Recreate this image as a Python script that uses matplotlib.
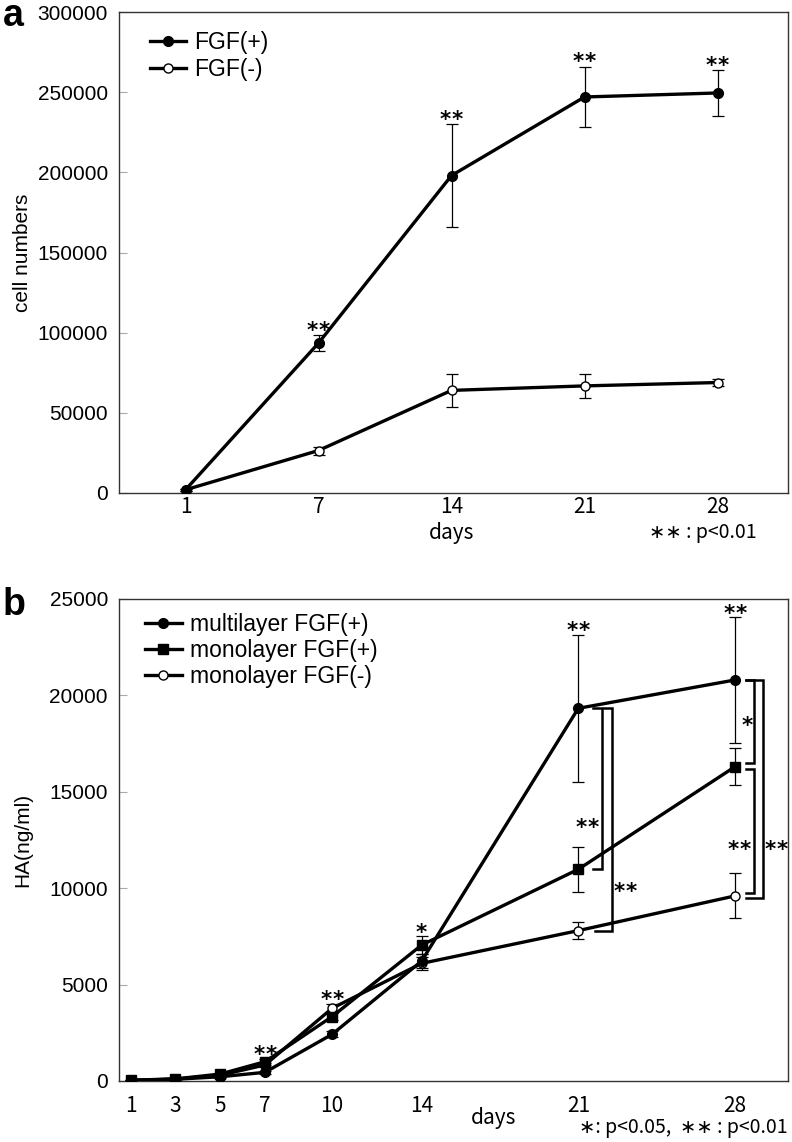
import numpy as np
import matplotlib.pyplot as plt

plt.rcParams['font.family'] = ['Liberation Sans', 'DejaVu Sans']
JP = ['Noto Sans CJK JP', 'DejaVu Sans']

# panel a: cell numbers
days_a = [1, 7, 14, 21, 28]
fgf_pos = [2000, 93500, 198000, 247000, 249500]
fgf_pos_err = [800, 5000, 32000, 19000, 14300]
fgf_neg = [2000, 26500, 64000, 66800, 68900]
fgf_neg_err = [800, 2500, 10500, 7300, 2000]
sig_a = ['', '**', '**', '**', '**']

# panel b: HA (ng/ml)
days_b = [1, 3, 5, 7, 10, 14, 21, 28]
multi_pos = [30, 90, 220, 450, 2420, 6220, 19330, 20800]
multi_pos_err = [20, 30, 50, 80, 150, 350, 3800, 3250]
mono_pos = [40, 110, 360, 1000, 3340, 7050, 10980, 16300]
mono_pos_err = [20, 30, 60, 150, 200, 450, 1180, 950]
mono_neg = [30, 100, 300, 830, 3770, 6100, 7800, 9600]
mono_neg_err = [20, 30, 60, 100, 220, 350, 430, 1170]
sig_b = ['', '', '', '**', '**', '*', '**', '**']


def stars(ax, x, y, s, dy=0, fs=15.5, gap=8.8):
	# one asterisk per text, ink centre dy points above y
	n = len(s)
	for i in range(n):
		ax.annotate('*', xy=(x, y), xytext=((i - (n - 1) / 2.0) * gap, dy - 0.59 * fs),
					textcoords='offset points', ha='center', va='baseline', fontsize=fs,
					family='DejaVu Sans', fontweight='bold')


def bracket(ax, x, x0, top, bot, x0_bot=None):
	if x0_bot is None:
		x0_bot = x0
	ax.plot([x0, x, x, x0_bot], [top, top, bot, bot], color='black', lw=1.8,
			solid_joinstyle='miter', zorder=4)


def style(ax, xpad):
	for sp in ax.spines.values():
		sp.set_color('#333333')
		sp.set_linewidth(1.0)
	ax.tick_params(axis='y', direction='in', length=6, color='#aaaaaa', pad=8, labelsize=15)
	ax.tick_params(axis='x', length=0, pad=xpad)
	for lab in ax.get_xticklabels():
		lab.set_family(JP)
		lab.set_fontsize(15)


def series(ax, x, y, err, marker, face, label, ms=7):
	ax.errorbar(x, y, yerr=err, fmt='none', ecolor='black', elinewidth=0.9,
				capsize=4.3, capthick=0.9, zorder=2)
	ax.plot(x, y, color='black', lw=2.4, marker=marker, markersize=ms,
			markerfacecolor=face, markeredgecolor='black', markeredgewidth=1.0,
			label=label, zorder=3)


fig = plt.figure(figsize=(7.92, 11.42), dpi=100)
W, H = 792.0, 1142.0

# ---- a ----
ax1 = fig.add_axes([119 / W, 1 - 493 / H, (788 - 119) / W, (493 - 12) / H])
xa = np.arange(len(days_a))
series(ax1, xa, fgf_neg, fgf_neg_err, 'o', 'white', 'FGF(-)', ms=6.5)
series(ax1, xa, fgf_pos, fgf_pos_err, 'o', 'black', 'FGF(+)')
for i, s in enumerate(sig_a):
	if s:
		stars(ax1, xa[i], fgf_pos[i] + fgf_pos_err[i], s, dy=8)

ax1.set_xlim(-0.5, 4.53)
ax1.set_ylim(0, 300000)
ax1.set_yticks(np.arange(0, 300001, 50000))
ax1.set_xticks(xa)
ax1.set_xticklabels([str(d) for d in days_a])
style(ax1, 2)
ax1.set_ylabel('cell numbers', fontsize=15)
ax1.yaxis.set_label_coords(-0.13, 0.5)
h, l = ax1.get_legend_handles_labels()
ax1.legend(h[::-1], l[::-1], loc='upper left', bbox_to_anchor=(0.046, 0.96), frameon=False,
		   fontsize=16.5, handlelength=1.6, handletextpad=0.35, labelspacing=0.15,
		   borderaxespad=0, borderpad=0)
ax1.text(2, -0.083, 'days', transform=ax1.get_xaxis_transform(), ha='center', va='center',
		 family=JP, fontsize=15)
ax1.text(0.873, -0.083, '∗∗ : p<0.01', transform=ax1.transAxes, ha='center', va='center',
		 family=JP, fontsize=14)
fig.text(3 / W, 1 - 26 / H, 'a', fontsize=27, fontweight='bold', va='baseline')

# ---- b ----
ax2 = fig.add_axes([119 / W, 1 - 1081 / H, (788 - 119) / W, (1081 - 599) / H])
series(ax2, days_b, mono_neg, mono_neg_err, 'o', 'white', 'monolayer FGF(-)', ms=6.5)
series(ax2, days_b, multi_pos, multi_pos_err, 'o', 'black', 'multilayer FGF(+)')
series(ax2, days_b, mono_pos, mono_pos_err, 's', 'black', 'monolayer FGF(+)')
for i, s in enumerate(sig_b):
	if s:
		top = max(multi_pos[i] + multi_pos_err[i], mono_pos[i] + mono_pos_err[i],
				  mono_neg[i] + mono_neg_err[i])
		stars(ax2, days_b[i], top, s, dy=7.5)

# comparison brackets at day 21 and 28
bracket(ax2, 22.04, 21.68, multi_pos[6], mono_pos[6])
stars(ax2, 21.4, 13450, '**')
bracket(ax2, 22.52, 22.16, multi_pos[6], mono_neg[6], x0_bot=21.75)
stars(ax2, 23.1, 10170, '**')
bracket(ax2, 28.86, 28.48, multi_pos[7], mono_pos[7] + 200)
stars(ax2, 28.53, 18780, '*')
bracket(ax2, 28.86, 28.48, mono_pos[7] - 100, mono_neg[7] + 150)
stars(ax2, 28.2, 12340, '**')
bracket(ax2, 29.24, 28.48, multi_pos[7], mono_neg[7] - 120)
stars(ax2, 29.85, 12340, '**')

ax2.set_xlim(0.48, 30.37)
ax2.set_ylim(0, 25000)
ax2.set_yticks(np.arange(0, 25001, 5000))
ax2.set_xticks(days_b)
ax2.set_xticklabels([str(d) for d in days_b])
style(ax2, 10)
ax2.set_ylabel('HA(ng/ml)', fontsize=15)
ax2.yaxis.set_label_coords(-0.13, 0.5)
h, l = ax2.get_legend_handles_labels()
ax2.legend([h[1], h[2], h[0]], [l[1], l[2], l[0]], loc='upper left',
		   bbox_to_anchor=(0.039, 0.97), frameon=False, fontsize=16.5, handlelength=1.6,
		   handletextpad=0.35, labelspacing=0.12, borderaxespad=0, borderpad=0)
ax2.text(17.2, -0.077, 'days', transform=ax2.get_xaxis_transform(), ha='center', va='center',
		 family=JP, fontsize=15)
ax2.text(1.0, -0.097, '∗: p<0.05,  ∗∗ : p<0.01', transform=ax2.transAxes, ha='right',
		 va='center', family=JP, fontsize=14)
fig.text(3 / W, 1 - 615 / H, 'b', fontsize=27, fontweight='bold', va='baseline')

fig.savefig('out.png', dpi=100)
